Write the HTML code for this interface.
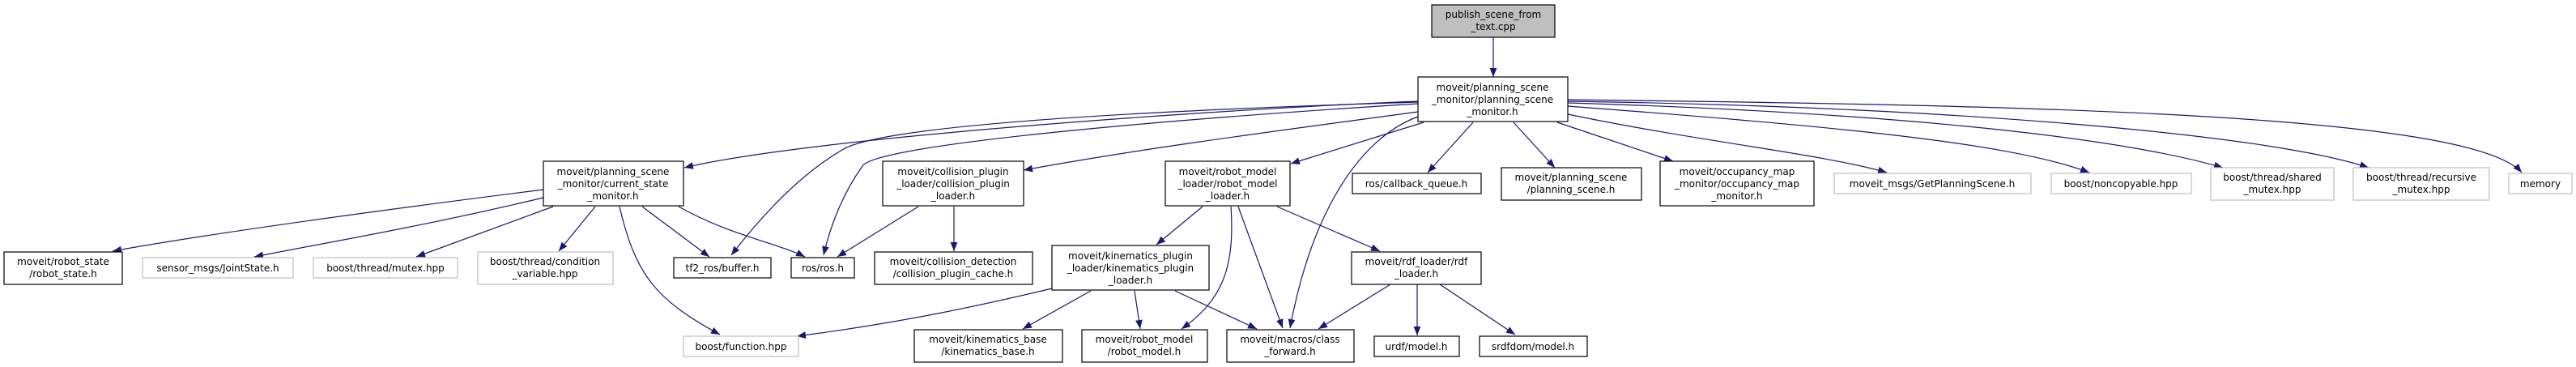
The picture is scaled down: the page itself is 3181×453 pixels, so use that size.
<!DOCTYPE html>
<html><head><meta charset="utf-8"><style>
html,body{margin:0;padding:0;background:#fff;}
svg{display:block;}
text{font-family:"DejaVu Sans","Liberation Sans",sans-serif;font-size:12px;fill:#000;text-anchor:middle;}
.b{fill:#fff;stroke:#000;stroke-width:1.2;}
.g{fill:#fff;stroke:#bfbfbf;stroke-width:1.2;}
.e{fill:none;stroke:#191970;stroke-width:1.2;marker-end:url(#a);}
</style></head><body>
<svg width="3181" height="453" viewBox="0 0 3181 453" xmlns="http://www.w3.org/2000/svg">
<defs><marker id="a" viewBox="0 0 10 8" refX="10" refY="4" markerWidth="11" markerHeight="9" markerUnits="userSpaceOnUse" orient="auto"><path d="M0,0 L10,4 L0,8 z" fill="#191970"/></marker></defs>

<path class="e" d="M1844,46 L1844,95"/>
<path class="e" d="M1751,125 C1500,135 1000,170 845,207"/>
<path class="e" d="M1751,126 C1300,140 1080,160 1040,185 C980,220 930,280 903,315"/>
<path class="e" d="M1751,128 C1400,150 1080,180 1065,205 C1040,240 1025,280 1017,315"/>
<path class="e" d="M1751,144 C1680,170 1620,260 1593,405"/>
<path class="e" d="M1751,138 C1550,165 1400,185 1264,210"/>
<path class="e" d="M1758,151 L1594,202"/>
<path class="e" d="M1819,151 L1763,213"/>
<path class="e" d="M1869,151 L1920,207"/>
<path class="e" d="M1923,151 L2066,199"/>
<path class="e" d="M1936,141 C2100,175 2250,190 2330,213"/>
<path class="e" d="M1936,131 C2250,155 2480,175 2580,213"/>
<path class="e" d="M1936,127 C2300,138 2600,165 2745,207"/>
<path class="e" d="M1936,125 C2400,132 2800,165 2925,207"/>
<path class="e" d="M1936,123 C2500,130 3050,140 3114,213"/>

<path class="e" d="M671,234 C450,262 250,290 139,310"/>
<path class="e" d="M671,244 C520,280 400,300 314,317"/>
<path class="e" d="M683,255 L514,317"/>
<path class="e" d="M735,255 L690,310"/>
<path class="e" d="M793,255 L876,317"/>
<path class="e" d="M838,255 C900,290 960,300 994,317"/>
<path class="e" d="M765,255 C785,340 810,370 889,413"/>

<path class="e" d="M1134,255 L1034,317"/>
<path class="e" d="M1178,255 L1178,310"/>

<path class="e" d="M1485,255 L1428,302"/>
<path class="e" d="M1520,255 C1525,330 1510,370 1459,406"/>
<path class="e" d="M1529,255 L1584,405"/>
<path class="e" d="M1577,255 L1704,310"/>

<path class="e" d="M1299,356 C1200,380 1100,400 984,415"/>
<path class="e" d="M1347,359 L1263,406"/>
<path class="e" d="M1401,359 L1408,406"/>
<path class="e" d="M1451,359 L1552,406"/>

<path class="e" d="M1717,351 L1628,406"/>
<path class="e" d="M1750,351 L1750,414"/>
<path class="e" d="M1778,351 L1871,413"/>

<rect x="1768" y="6" width="152" height="40" fill="#bfbfbf" stroke="#000" stroke-width="1.2"/>
<text x="1844" y="22">publish_scene_from</text><text x="1844" y="37">_text.cpp</text>

<rect class="b" x="1751" y="95" width="185" height="55"/>
<text x="1843" y="112">moveit/planning_scene</text><text x="1843" y="127">_monitor/planning_scene</text><text x="1843" y="142">_monitor.h</text>

<rect class="b" x="671" y="199" width="173" height="55"/>
<text x="757" y="216">moveit/planning_scene</text><text x="757" y="231">_monitor/current_state</text><text x="757" y="246">_monitor.h</text>

<rect class="b" x="1090" y="199" width="174" height="55"/>
<text x="1177" y="216">moveit/collision_plugin</text><text x="1177" y="231">_loader/collision_plugin</text><text x="1177" y="246">_loader.h</text>

<rect class="b" x="1439" y="199" width="154" height="55"/>
<text x="1516" y="216">moveit/robot_model</text><text x="1516" y="231">_loader/robot_model</text><text x="1516" y="246">_loader.h</text>

<rect class="b" x="1670" y="214" width="159" height="25"/>
<text x="1749" y="231">ros/callback_queue.h</text>

<rect class="b" x="1854" y="207" width="173" height="40"/>
<text x="1940" y="223">moveit/planning_scene</text><text x="1940" y="238">/planning_scene.h</text>

<rect class="b" x="2050" y="199" width="190" height="55"/>
<text x="2145" y="216">moveit/occupancy_map</text><text x="2145" y="231">_monitor/occupancy_map</text><text x="2145" y="246">_monitor.h</text>

<rect class="g" x="2265" y="214" width="243" height="25"/>
<text x="2386" y="231">moveit_msgs/GetPlanningScene.h</text>
<rect class="g" x="2533" y="214" width="173" height="25"/>
<text x="2619" y="231">boost/noncopyable.hpp</text>
<rect class="g" x="2730" y="207" width="152" height="40"/>
<text x="2806" y="223">boost/thread/shared</text><text x="2806" y="238">_mutex.hpp</text>
<rect class="g" x="2906" y="207" width="168" height="40"/>
<text x="2990" y="223">boost/thread/recursive</text><text x="2990" y="238">_mutex.hpp</text>
<rect class="g" x="3098" y="214" width="78" height="25"/>
<text x="3137" y="231">memory</text>

<rect class="b" x="5" y="311" width="146" height="40"/>
<text x="78" y="327">moveit/robot_state</text><text x="78" y="342">/robot_state.h</text>
<rect class="g" x="176" y="318" width="186" height="25"/>
<text x="269" y="335">sensor_msgs/JointState.h</text>
<rect class="g" x="387" y="318" width="178" height="25"/>
<text x="476" y="335">boost/thread/mutex.hpp</text>
<rect class="g" x="590" y="311" width="167" height="40"/>
<text x="673" y="327">boost/thread/condition</text><text x="673" y="342">_variable.hpp</text>
<rect class="b" x="832" y="318" width="120" height="25"/>
<text x="892" y="335">tf2_ros/buffer.h</text>
<rect class="b" x="977" y="318" width="78" height="25"/>
<text x="1016" y="335">ros/ros.h</text>

<rect class="b" x="1080" y="311" width="195" height="40"/>
<text x="1177" y="327">moveit/collision_detection</text><text x="1177" y="342">/collision_plugin_cache.h</text>
<rect class="b" x="1299" y="303" width="194" height="55"/>
<text x="1396" y="320">moveit/kinematics_plugin</text><text x="1396" y="335">_loader/kinematics_plugin</text><text x="1396" y="350">_loader.h</text>
<rect class="b" x="1669" y="311" width="160" height="40"/>
<text x="1749" y="327">moveit/rdf_loader/rdf</text><text x="1749" y="342">_loader.h</text>

<rect class="g" x="844" y="415" width="142" height="25"/>
<text x="915" y="432">boost/function.hpp</text>
<rect class="b" x="1129" y="407" width="183" height="40"/>
<text x="1220" y="423">moveit/kinematics_base</text><text x="1220" y="438">/kinematics_base.h</text>
<rect class="b" x="1336" y="407" width="155" height="40"/>
<text x="1413" y="423">moveit/robot_model</text><text x="1413" y="438">/robot_model.h</text>
<rect class="b" x="1515" y="407" width="157" height="40"/>
<text x="1593" y="423">moveit/macros/class</text><text x="1593" y="438">_forward.h</text>
<rect class="b" x="1697" y="415" width="105" height="25"/>
<text x="1749" y="432">urdf/model.h</text>
<rect class="b" x="1827" y="415" width="133" height="25"/>
<text x="1893" y="432">srdfdom/model.h</text>
</svg>
</body></html>
